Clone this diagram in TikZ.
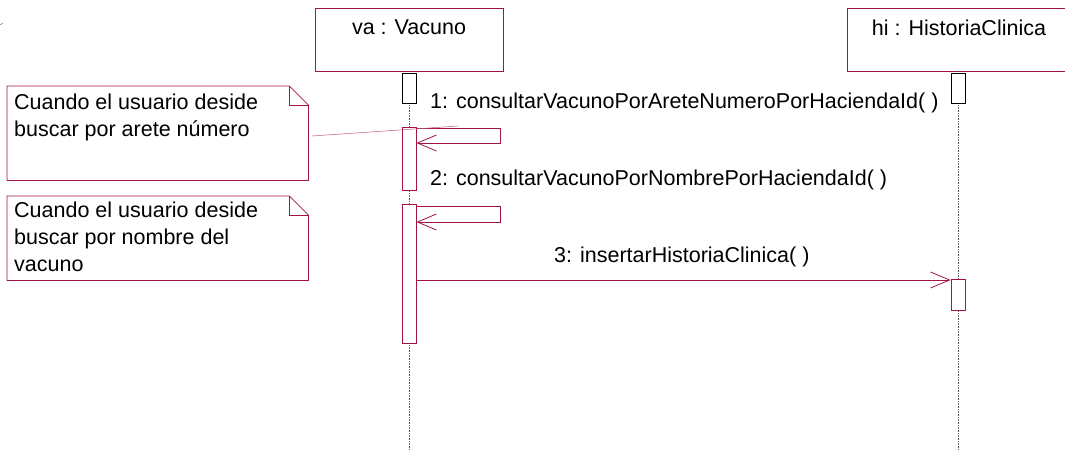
\documentclass[tikz,border=0pt]{standalone}
\usepackage{fontspec}
\setmainfont{Liberation Sans}
\usetikzlibrary{arrows.meta,positioning}
\definecolor{umlred}{RGB}{163,20,70}
\tikzset{
  obj/.style={draw=umlred, line width=0.8pt, minimum width=188pt, minimum height=63pt, inner sep=0pt},
  act/.style={draw=umlred, fill=white, line width=0.8pt, minimum width=14pt, inner sep=0pt, anchor=north},
  actk/.style={act, draw=black},
  life/.style={densely dotted, gray!70!black, line width=0.6pt},
  msg/.style={umlred, line width=0.8pt, -{Straight Barb[length=19pt,width=16pt]}},
  lbl/.style={font=\fontsize{21.5}{24}\selectfont, inner sep=0pt},
  notebox/.style={minimum width=301pt, inner sep=0pt, anchor=north west},
  notetxt/.style={font=\fontsize{21.5}{27}\selectfont, align=left, inner sep=0pt, anchor=north west}
}
\begin{document}
\begin{tikzpicture}[x=1pt,y=-1pt]
\useasboundingbox (0,0) rectangle (1065,450);
% objects
\node[obj] (va) at (409,39.5) {};
\node[lbl, anchor=north] (val) at ([yshift=-12pt]va.north) {va : Vacuno};
\node[obj, minimum width=224pt] (hi) at (959,39.5) {};
\node[lbl, anchor=north] (hil) at ([yshift=-12pt]hi.north) {hi : HistoriaClinica};
% lifelines
\coordinate (vaend) at (409,450);
\coordinate (hiend) at (958,450);
\draw[life] (va.south) -- (vaend);
\draw[life] (hi.south -| hiend) -- (hiend);
% activations
\node[actk, minimum height=30pt] (a0) at (409,73) {};
\node[act, minimum height=63pt] (a1) at (409,127) {};
\node[act, minimum height=139pt] (a2) at (409,204) {};
\node[actk, minimum height=30pt] (h0) at (958,73) {};
\node[act, minimum height=31pt] (h1) at (958,279) {};
% messages
\draw[msg] ([yshift=-1pt]a1.north east) -- ++(84,0) -- ++(0,15) -- ([yshift=-16pt]a1.north east);
\node[lbl, anchor=west] (m1) at (430,103) {1: consultarVacunoPorAreteNumeroPorHaciendaId( )};
\draw[msg] ([yshift=-2pt]a2.north east) -- ++(84,0) -- ++(0,16) -- ([yshift=-18pt]a2.north east);
\node[lbl, anchor=west] (m2) at (430,180) {2: consultarVacunoPorNombrePorHaciendaId( )};
\coordinate (m3) at ([yshift=-1pt]h1.north west);
\draw[msg] (a2.east |- m3) -- (m3);
\node[lbl, anchor=west] (m3l) at (554,257) {3: insertarHistoriaClinica( )};
% notes
\node[notebox, minimum height=94pt] (n1) at (7,86) {};
\draw[umlred, line width=0.8pt] (n1.north west) -- ([xshift=-19pt]n1.north east) -- ([yshift=-19pt]n1.north east) -- (n1.south east) -- (n1.south west) -- cycle;
\draw[umlred, line width=0.6pt] ([xshift=-19pt]n1.north east) |- ([yshift=-19pt]n1.north east);
\node[notetxt] (t1) at ([shift={(7pt,-8pt)}]n1.north west) {Cuando el usuario deside\\buscar por arete número};
\node[notebox, minimum height=84pt] (n2) at (7,196) {};
\draw[umlred, line width=0.8pt] (n2.north west) -- ([xshift=-19pt]n2.north east) -- ([yshift=-19pt]n2.north east) -- (n2.south east) -- (n2.south west) -- cycle;
\draw[umlred, line width=0.6pt] ([xshift=-19pt]n2.north east) |- ([yshift=-19pt]n2.north east);
\node[notetxt] (t2) at ([shift={(7pt,-6pt)}]n2.north west) {Cuando el usuario deside\\buscar por nombre del\\vacuno};
% note anchor
\coordinate (k0) at (312,136);
\coordinate (k1) at (458,126);
\draw[umlred!70, line width=0.5pt] (k0) -- (k1);
\draw[umlred!70, line width=0.5pt] (0,25) -- (3,23);
\end{tikzpicture}
\end{document}
